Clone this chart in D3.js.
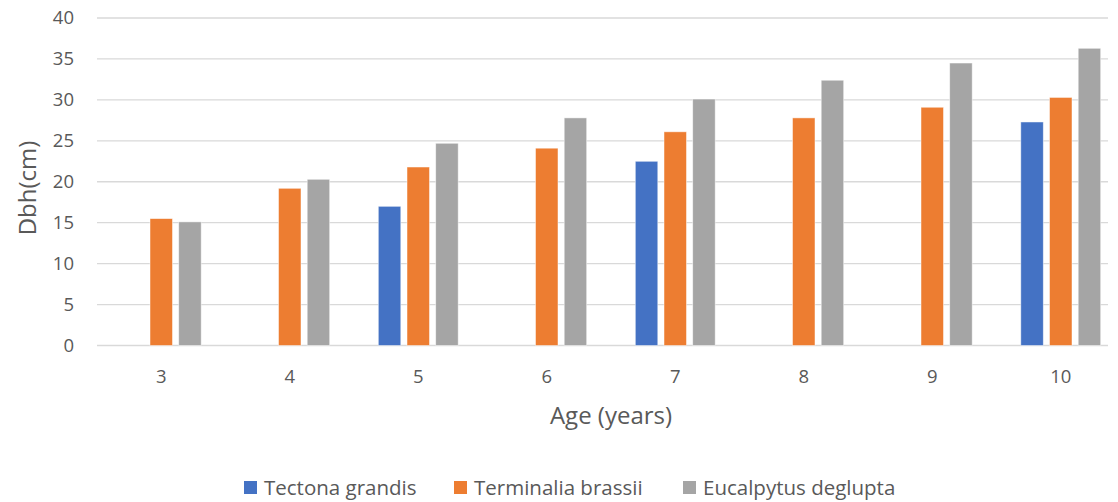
<!DOCTYPE html>
<html lang="en">
<head>
    <meta charset="UTF-8">
    <title>Dbh by age</title>
    <script src="https://d3js.org/d3.v7.min.js"></script>
    <style>
        html, body {
            margin: 0;
            background: #fff;
        }
        text {
            font-family: "Open Sans", "Noto Sans", sans-serif;
            fill: #595959;
        }
    </style>
</head>
<body>
    <div id="chart"></div>
    <script>
        // values
        var ages = ["3", "4", "5", "6", "7", "8", "9", "10"];
        var seriesNames = ["Tectona grandis", "Terminalia brassii", "Eucalpytus deglupta"];
        var tectona = [null, null, 17.0, null, 22.5, null, null, 27.3];
        var terminalia = [15.5, 19.2, 21.8, 24.1, 26.1, 27.8, 29.1, 30.3];
        var eucalyptus = [15.1, 20.3, 24.7, 27.8, 30.1, 32.4, 34.5, 36.3];
        var yTicks = [0, 5, 10, 15, 20, 25, 30, 35, 40];
        var colours = ["#4472C4", "#ED7D31", "#A5A5A5"];

        var width = 1118, height = 502;
        // plot area (the right edge runs past the picture, as in the original crop)
        var plotLeft = 97, plotRight = 1125, plotTop = 18, plotBottom = 345.5;
        var gridEnd = 1108;

        var svg = d3.select("#chart").append("svg")
            .attr("width", width)
            .attr("height", height);

        svg.append("rect")
            .attr("width", width)
            .attr("height", height)
            .attr("fill", "#fff");

        var x0 = d3.scaleBand()
            .domain(ages)
            .range([plotLeft, plotRight])
            .paddingInner(0.33)
            .paddingOuter(0.165);

        var x1 = d3.scaleBand()
            .domain(seriesNames)
            .range([0, x0.bandwidth()])
            .paddingInner(0.216)
            .paddingOuter(0.108);

        var y = d3.scaleLinear()
            .domain([0, 40])
            .range([plotBottom, plotTop]);

        // gridlines
        svg.append("g")
            .selectAll("line")
            .data(yTicks)
            .enter().append("line")
            .attr("x1", plotLeft)
            .attr("x2", gridEnd)
            .attr("y1", function (d) { return y(d); })
            .attr("y2", function (d) { return y(d); })
            .attr("stroke", "#D9D9D9")
            .attr("stroke-width", 1.3);

        // y tick labels
        svg.append("g")
            .selectAll("text")
            .data(yTicks)
            .enter().append("text")
            .attr("x", 74)
            .attr("y", function (d) { return y(d); })
            .attr("dy", "0.35em")
            .attr("text-anchor", "end")
            .style("font-size", "18.5px")
            .text(function (d) { return d; });

        // x tick labels
        svg.append("g")
            .selectAll("text")
            .data(ages)
            .enter().append("text")
            .attr("x", function (d) { return x0(d) + x0.bandwidth() / 2; })
            .attr("y", 377)
            .attr("dy", "0.35em")
            .attr("text-anchor", "middle")
            .style("font-size", "18.5px")
            .text(function (d) { return d; });

        // bars
        var table = ages.map(function (a, i) {
            return {
                age: a,
                values: [
                    { name: seriesNames[0], value: tectona[i], c: colours[0] },
                    { name: seriesNames[1], value: terminalia[i], c: colours[1] },
                    { name: seriesNames[2], value: eucalyptus[i], c: colours[2] }
                ]
            };
        });

        var groups = svg.append("g")
            .selectAll("g")
            .data(table)
            .enter().append("g")
            .attr("transform", function (d) { return "translate(" + x0(d.age) + ",0)"; });

        groups.selectAll("rect")
            .data(function (d) { return d.values.filter(function (v) { return v.value != null; }); })
            .enter().append("rect")
            .attr("x", function (d) { return x1(d.name); })
            .attr("width", x1.bandwidth())
            .attr("y", function (d) { return y(d.value); })
            .attr("height", function (d) { return plotBottom - y(d.value); })
            .attr("fill", function (d) { return d.c; })
            .attr("stroke", "#fff")
            .attr("stroke-opacity", 0.6)
            .attr("stroke-width", 0.8);

        // axis titles
        svg.append("text")
            .attr("x", 611)
            .attr("y", 424)
            .attr("text-anchor", "middle")
            .style("font-size", "24px")
            .text("Age (years)");

        svg.append("text")
            .attr("transform", "translate(36,188) rotate(-90)")
            .attr("text-anchor", "middle")
            .style("font-size", "24px")
            .text("Dbh(cm)");

        // legend
        var legendX = [244, 454, 683];
        var legend = svg.append("g")
            .selectAll("g")
            .data(seriesNames)
            .enter().append("g")
            .attr("transform", function (d, i) { return "translate(" + legendX[i] + ",487.5)"; });

        legend.append("rect")
            .attr("x", 0)
            .attr("y", -6.5)
            .attr("width", 13)
            .attr("height", 13)
            .attr("fill", function (d, i) { return colours[i]; });

        legend.append("text")
            .attr("x", 20)
            .attr("y", 7)
            .style("font-size", "20.5px")
            .text(function (d) { return d; });
    </script>
</body>
</html>
